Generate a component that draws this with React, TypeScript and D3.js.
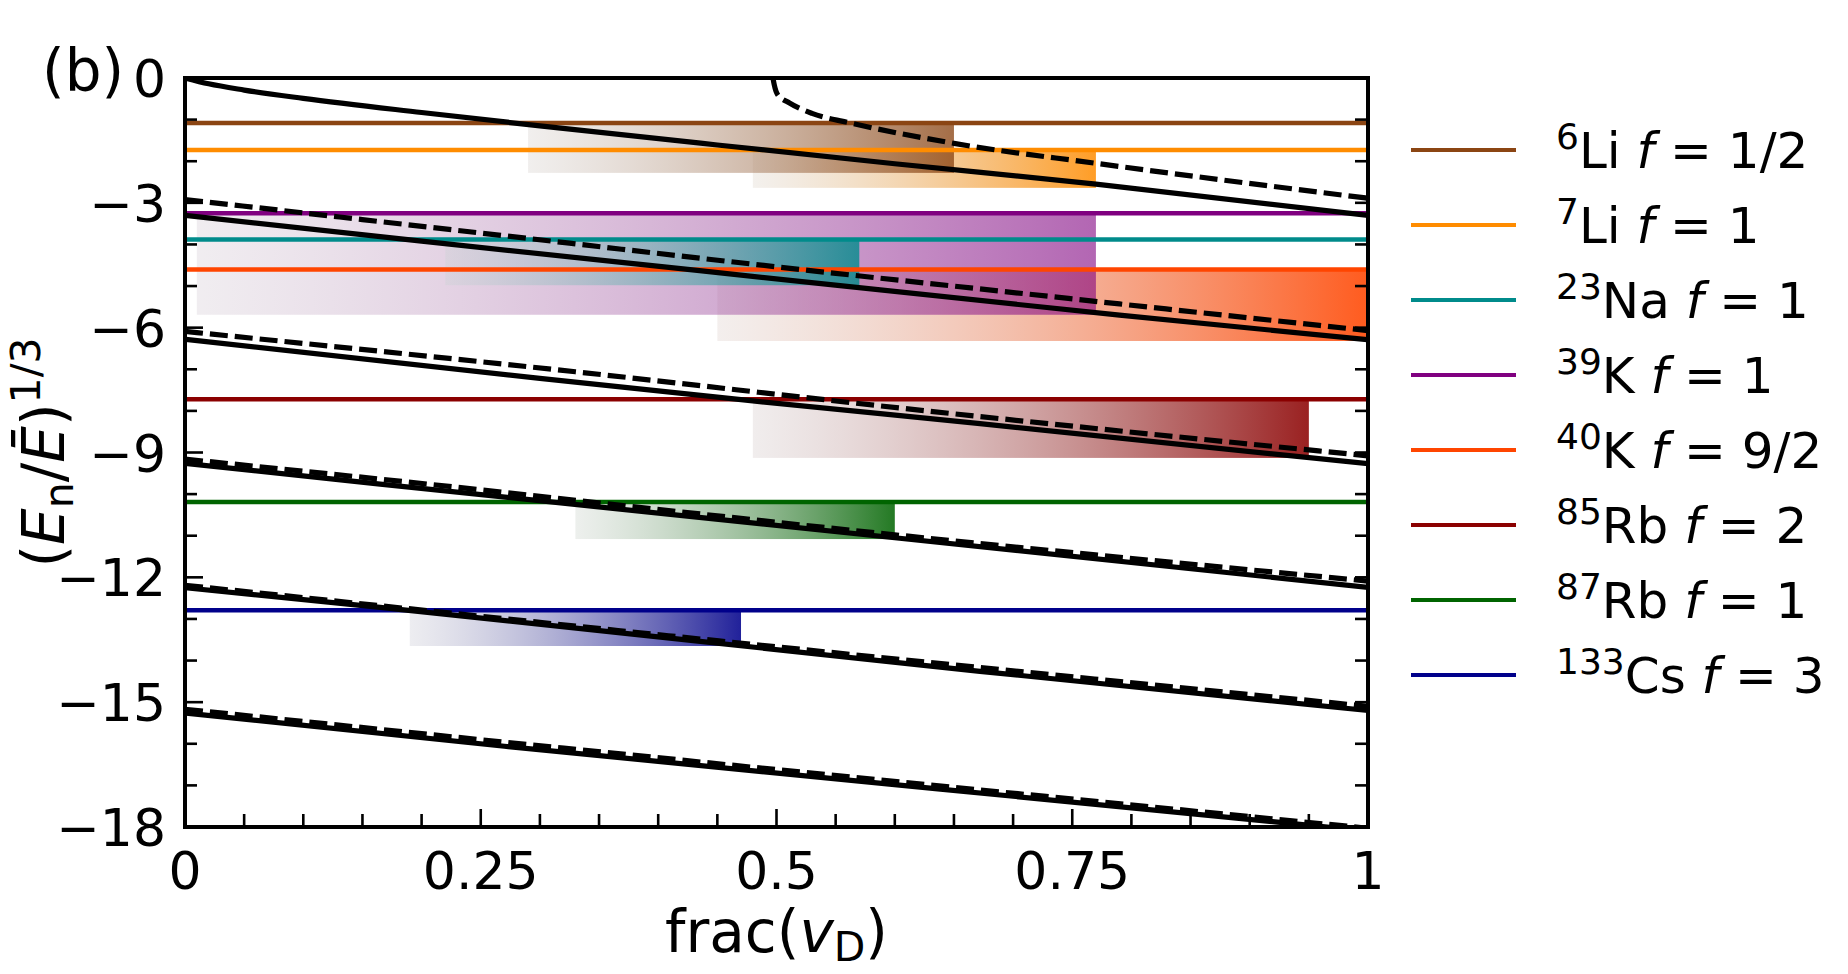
import * as React from "react";
import * as d3 from "d3";

// species, in legend order
const massNumbers = ["6", "7", "23", "39", "40", "85", "87", "133"];
const elements = ["Li", "Li", "Na", "K", "K", "Rb", "Rb", "Cs"];
const fLabels = ["1/2", "1", "1", "1", "9/2", "2", "1", "3"];
const colors = ["#8b4513", "#ff8c00", "#008b8b", "#800080", "#ff4500", "#8b0000", "#006400", "#00008b"];
const levels = [-1.08, -1.73, -3.88, -3.25, -4.6, -7.72, -10.19, -12.79];

// shaded ranges below each level
const bandStart = [0.29, 0.48, 0.22, 0.01, 0.45, 0.48, 0.33, 0.19];
const bandEnd = [0.65, 0.77, 0.57, 0.77, 1.0, 0.95, 0.6, 0.47];
const bandBottom = [-2.28, -2.64, -4.98, -5.69, -6.32, -9.13, -11.08, -13.65];
const bandAlpha = [0.78, 0.85, 0.8, 0.6, 0.88, 0.87, 0.86, 0.87];

const solidCurves: [number, number][][] = [
    [[0, 0], [0.02, -0.14], [0.05, -0.29], [0.1, -0.49], [0.2, -0.83], [0.3, -1.15], [0.45, -1.61], [0.6, -2.06], [0.77, -2.55], [1, -3.3]],
    [[0, -3.3], [0.2, -3.92], [0.435, -4.63], [0.79, -5.7], [1, -6.29]],
    [[0, -6.28], [0.3, -7.22], [0.48, -7.76], [0.67, -8.3], [1, -9.27]],
    [[0, -9.26], [0.165, -9.76], [0.604, -11.06], [1, -12.24]],
    [[0, -12.25], [0.165, -12.72], [0.672, -14.26], [1, -15.2]],
    [[0, -15.26], [0.27, -16.06], [0.93, -17.9], [1, -18.1]],
];

const dashedCurves: [number, number][][] = [
    [[0.497, 0], [0.498, -0.15], [0.501, -0.4], [0.511, -0.6], [0.53, -0.85], [0.564, -1.09], [0.65, -1.57], [0.77, -2.05], [1, -2.89]],
    [[0, -2.92], [0.325, -3.97], [0.435, -4.33], [0.79, -5.43], [1, -6.07]],
    [[0, -6.09], [0.33, -7.06], [0.604, -7.93], [1, -9.08]],
    [[0, -9.16], [0.165, -9.64], [0.604, -10.99], [1, -12.09]],
    [[0, -12.19], [0.5, -13.67], [1, -15.1]],
    [[0, -15.17], [0.27, -15.96], [1, -18.03]],
];

const yMajorTicks = [0, -3, -6, -9, -12, -15, -18];
const xMajorTicks = [0, 0.25, 0.5, 0.75, 1];
const xTickLabels = ["0", "0.25", "0.5", "0.75", "1"];

const FONT = "DejaVu Sans";

const App: React.FC = () => {
    const svgRef = React.useRef<SVGSVGElement | null>(null);

    React.useEffect(() => {
        if (!svgRef.current) return;
        const svg = d3.select(svgRef.current);
        svg.selectAll("*").remove();

        const left = 185, right = 1368, top = 78, bottom = 827;
        const x = d3.scaleLinear().domain([0, 1]).range([left, right]);
        const y = d3.scaleLinear().domain([0, -18]).range([top, bottom]);

        const defs = svg.append("defs");
        defs.append("clipPath").attr("id", "plot-clip")
            .append("rect")
            .attr("x", left).attr("y", top)
            .attr("width", right - left).attr("height", bottom - top);

        colors.forEach((c, i) => {
            const g = defs.append("linearGradient")
                .attr("id", `band-${i}`)
                .attr("x1", 0).attr("x2", 1).attr("y1", 0).attr("y2", 0);
            g.append("stop").attr("offset", 0)
                .attr("stop-color", d3.interpolateRgb("#d8d8d8", c)(0.08))
                .attr("stop-opacity", 0.32);
            g.append("stop").attr("offset", 1)
                .attr("stop-color", c)
                .attr("stop-opacity", bandAlpha[i]);
        });

        // bands: first species ends up on top
        const order = d3.range(colors.length).reverse();
        svg.append("g").selectAll("rect")
            .data(order)
            .enter().append("rect")
            .attr("x", i => x(bandStart[i]))
            .attr("width", i => x(bandEnd[i]) - x(bandStart[i]))
            .attr("y", i => y(levels[i]))
            .attr("height", i => y(bandBottom[i]) - y(levels[i]))
            .attr("fill", i => `url(#band-${i})`);

        svg.append("g").selectAll("line")
            .data(levels)
            .enter().append("line")
            .attr("x1", x(0)).attr("x2", x(1))
            .attr("y1", d => y(d)).attr("y2", d => y(d))
            .attr("stroke", (_d, i) => colors[i])
            .attr("stroke-width", 4.5);

        const line = d3.line<[number, number]>()
            .x(d => x(d[0]))
            .y(d => y(d[1]))
            .curve(d3.curveMonotoneX);

        const curves = svg.append("g").attr("clip-path", "url(#plot-clip)");
        curves.selectAll(".solid")
            .data(solidCurves)
            .enter().append("path")
            .attr("class", "solid")
            .attr("d", d => line(d))
            .attr("fill", "none")
            .attr("stroke", "black")
            .attr("stroke-width", 5.2);
        curves.selectAll(".dashed")
            .data(dashedCurves)
            .enter().append("path")
            .attr("class", "dashed")
            .attr("d", d => line(d))
            .attr("fill", "none")
            .attr("stroke", "black")
            .attr("stroke-width", 5.2)
            .attr("stroke-dasharray", "18 7");

        // ticks, all pointing inward
        const ticks = svg.append("g").attr("stroke", "black").attr("stroke-width", 2.6);
        const yAll = d3.range(-18, 1);
        yAll.forEach(v => {
            const len = v % 3 === 0 ? 18 : 12;
            ticks.append("line").attr("x1", left).attr("x2", left + len).attr("y1", y(v)).attr("y2", y(v));
            ticks.append("line").attr("x1", right).attr("x2", right - 13).attr("y1", y(v)).attr("y2", y(v));
        });
        const xAll = d3.range(0, 21).map(k => k * 0.05);
        xAll.forEach((v, k) => {
            const len = k % 5 === 0 ? 18 : 13;
            ticks.append("line").attr("x1", x(v)).attr("x2", x(v)).attr("y1", bottom).attr("y2", bottom - len);
        });

        svg.append("rect")
            .attr("x", left).attr("y", top)
            .attr("width", right - left).attr("height", bottom - top)
            .attr("fill", "none").attr("stroke", "black").attr("stroke-width", 4);

        const labels = svg.append("g").attr("font-family", FONT).attr("fill", "black");
        labels.selectAll(".ytick")
            .data(yMajorTicks)
            .enter().append("text")
            .attr("class", "ytick")
            .attr("x", left - 19)
            .attr("y", d => y(d) + 19)
            .attr("text-anchor", "end")
            .attr("font-size", 52)
            .text(d => (d < 0 ? "\u2212" + Math.abs(d) : String(d)));
        labels.selectAll(".xtick")
            .data(xMajorTicks)
            .enter().append("text")
            .attr("class", "xtick")
            .attr("x", d => x(d))
            .attr("y", 889)
            .attr("text-anchor", "middle")
            .attr("font-size", 52)
            .text((_d, i) => xTickLabels[i]);

        labels.append("text").attr("x", 42).attr("y", 91).attr("font-size", 58).text("(b)");

        const xl = labels.append("text")
            .attr("x", (left + right) / 2).attr("y", 952)
            .attr("text-anchor", "middle").attr("font-size", 58);
        xl.append("tspan").text("frac(");
        xl.append("tspan").attr("font-style", "italic").text("v");
        xl.append("tspan").attr("font-size", 41).attr("dy", 9).text("D");
        xl.append("tspan").attr("dy", -9).text(")");

        const yl = labels.append("text")
            .attr("transform", `translate(64,${(top + bottom) / 2}) rotate(-90)`)
            .attr("text-anchor", "middle").attr("font-size", 58);
        yl.append("tspan").text("(");
        yl.append("tspan").attr("font-style", "italic").text("E");
        yl.append("tspan").attr("font-size", 41).attr("dy", 9).text("n");
        yl.append("tspan").attr("dy", -9).text("/");
        yl.append("tspan").attr("font-style", "italic").text("\u0112");
        yl.append("tspan").text(")");
        yl.append("tspan").attr("font-size", 41).attr("dy", -24).text("1/3");

        // legend
        const legend = svg.append("g").attr("font-family", FONT);
        colors.forEach((c, i) => {
            const ly = 150 + i * 75;
            legend.append("line")
                .attr("x1", 1411).attr("x2", 1516)
                .attr("y1", ly).attr("y2", ly)
                .attr("stroke", c).attr("stroke-width", 4);
            const t = legend.append("text").attr("x", 1556).attr("y", ly + 18).attr("font-size", 50);
            t.append("tspan").attr("font-size", 36).attr("dy", -19).text(massNumbers[i]);
            t.append("tspan").attr("dy", 19).text(elements[i] + " ");
            t.append("tspan").attr("font-style", "italic").text("f");
            t.append("tspan").text(" = " + fLabels[i]);
        });
    }, []);

    return (
        <svg
            ref={svgRef}
            width={1848}
            height={974}
            style={{ position: "absolute", left: 0, top: 0, background: "white" }}
        />
    );
};

export default App;
